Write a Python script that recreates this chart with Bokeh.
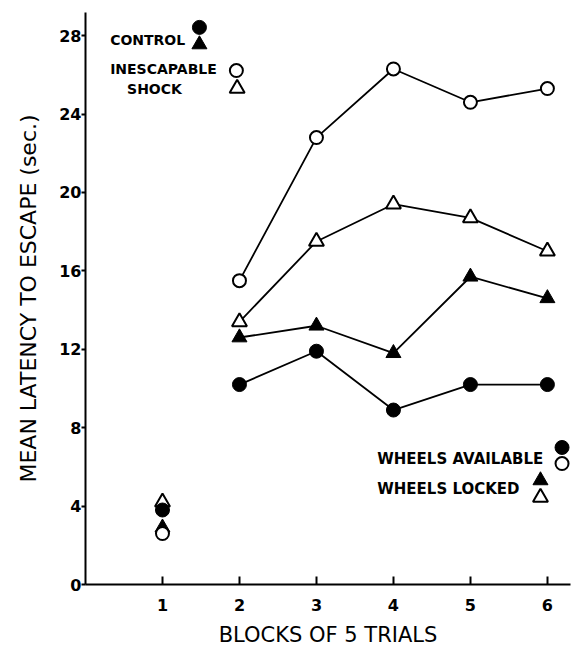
from bokeh.plotting import figure
from bokeh.models import Label, FixedTicker, Range1d
from bokeh.embed import file_html
from bokeh.resources import INLINE

# ---- data ----
blocks = [1, 2, 3, 4, 5, 6]
x_ticks = [1, 2, 3, 4, 5, 6]
y_ticks = [0, 4, 8, 12, 16, 20, 24, 28]

control_available = [3.8, 10.2, 11.9, 8.9, 10.2, 10.2]      # filled circles
control_locked = [2.9, 12.6, 13.2, 11.8, 15.7, 14.6]        # filled triangles
shock_available = [2.6, 15.5, 22.8, 26.3, 24.6, 25.3]       # open circles
shock_locked = [4.2, 13.4, 17.5, 19.4, 18.7, 17.0]          # open triangles

FONT = "DejaVu Sans"

p = figure(width=573, height=649, output_backend="svg", toolbar_location=None,
           x_range=Range1d(0, 6.3), y_range=Range1d(0, 29.18),
           min_border_left=85, min_border_right=3, min_border_top=12, min_border_bottom=65,
           x_axis_label="BLOCKS OF 5 TRIALS",
           y_axis_label="MEAN LATENCY TO ESCAPE (sec.)")

p.outline_line_color = None
p.xgrid.visible = False
p.ygrid.visible = False
p.background_fill_color = "white"
p.border_fill_color = "white"

for ax in (p.xaxis[0], p.yaxis[0]):
    ax.axis_line_width = 2
    ax.axis_line_color = "black"
    ax.major_tick_line_width = 2
    ax.major_tick_line_color = "black"
    ax.minor_tick_line_color = None
    ax.major_label_text_font = FONT
    ax.major_label_text_font_style = "bold"
    ax.major_label_text_font_size = "16px"
    ax.major_label_text_color = "black"
    ax.axis_label_text_font = FONT
    ax.axis_label_text_font_style = "normal"
    ax.axis_label_text_color = "black"

p.xaxis.axis_label_text_font_size = "21px"
p.yaxis.axis_label_text_font_size = "22px"

p.xaxis.ticker = FixedTicker(ticks=x_ticks)
p.yaxis.ticker = FixedTicker(ticks=y_ticks)
p.xaxis.major_tick_in = 8
p.xaxis.major_tick_out = 0
p.xaxis.major_label_standoff = 14
p.xaxis.axis_label_standoff = 9
p.yaxis.major_tick_in = 0
p.yaxis.major_tick_out = 4
p.yaxis.major_label_standoff = 0
p.yaxis.axis_label_standoff = 15

LW = 1.8
# connecting lines from block 2 onward
for ys in (shock_available, shock_locked, control_locked, control_available):
    p.line(blocks[1:], ys[1:], line_color="black", line_width=LW)

p.scatter(blocks, shock_locked, marker="triangle", size=15, fill_color="white",
          line_color="black", line_width=2)
p.scatter(blocks, control_available, marker="circle", size=14, fill_color="black",
          line_color="black", line_width=1)
p.scatter(blocks, control_locked, marker="triangle", size=15, fill_color="black",
          line_color="black", line_width=1)
p.scatter(blocks, shock_available, marker="circle", size=13, fill_color="white",
          line_color="black", line_width=2)

# ---- custom legends ----
def lab(x, y, t, size):
    p.add_layout(Label(x=x, y=y, text=t, text_font=FONT, text_font_style="bold",
                       text_font_size=size, text_baseline="middle", text_align="left",
                       text_color="black"))

lab(0.32, 27.8, "CONTROL", "14px")
lab(0.32, 26.28, "INESCAPABLE", "14px")
lab(0.54, 25.3, "SHOCK", "14px")
lab(3.79, 6.38, "WHEELS AVAILABLE", "15px")
lab(3.79, 4.85, "WHEELS LOCKED", "15px")

keys = {
    "filled_circle": ([1.48, 6.19], [28.42, 6.99]),
    "filled_tri": ([1.48, 5.91], [27.55, 5.31]),
    "open_circle": ([1.96, 6.19], [26.22, 6.17]),
    "open_tri": ([1.97, 5.91], [25.31, 4.44]),
}
p.scatter(*keys["filled_circle"], marker="circle", size=14, fill_color="black", line_color="black")
p.scatter(*keys["filled_tri"], marker="triangle", size=15, fill_color="black", line_color="black")
p.scatter(*keys["open_circle"], marker="circle", size=13, fill_color="white", line_color="black", line_width=2)
p.scatter(*keys["open_tri"], marker="triangle", size=15, fill_color="white", line_color="black", line_width=2)

open("out.html", "w").write(file_html(p, INLINE))
